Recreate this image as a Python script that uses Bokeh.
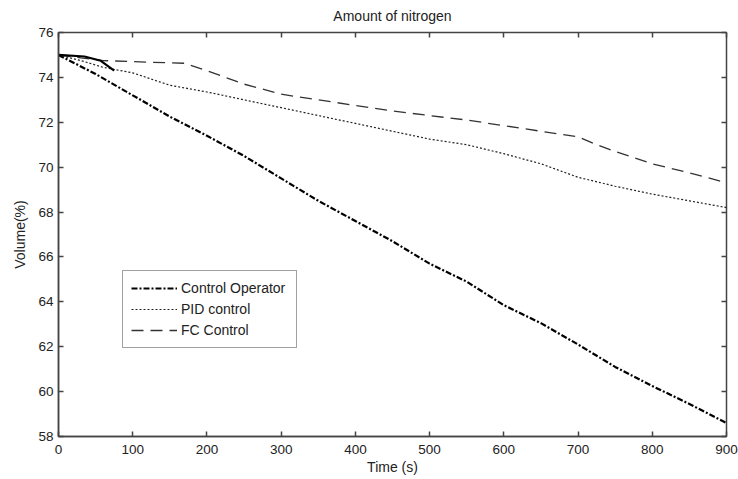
from bokeh.plotting import figure
from bokeh.models import Range1d, LinearAxis, Legend, LegendItem, FixedTicker
from bokeh.embed import file_html
from bokeh.resources import INLINE

# Nitrogen volume (%) over time for three control strategies
t_operator = [0, 50, 100, 150, 200, 250, 300, 350, 400, 450, 500, 550, 600, 650, 700, 750, 800, 850, 900]
v_operator = [75.0, 74.15, 73.2, 72.25, 71.4, 70.5, 69.5, 68.5, 67.6, 66.7, 65.7, 64.9, 63.85, 63.05, 62.1, 61.1, 60.25, 59.45, 58.6]

t_pid = [0, 30, 60, 100, 150, 200, 250, 300, 350, 400, 450, 500, 550, 600, 650, 700, 750, 800, 850, 900]
v_pid = [75.0, 74.75, 74.45, 74.2, 73.65, 73.35, 73.0, 72.65, 72.3, 71.95, 71.6, 71.25, 71.0, 70.6, 70.15, 69.55, 69.15, 68.8, 68.5, 68.2]

t_fc = [0, 30, 60, 100, 170, 200, 250, 300, 350, 400, 450, 500, 550, 600, 650, 700, 725, 750, 800, 850, 900]
v_fc = [75.0, 74.87, 74.75, 74.7, 74.63, 74.3, 73.7, 73.25, 73.0, 72.75, 72.5, 72.3, 72.1, 71.85, 71.6, 71.35, 71.0, 70.7, 70.15, 69.75, 69.3]

# short solid start-up segment
t_start = [0, 35, 57, 75]
v_start = [75.0, 74.93, 74.74, 74.3]

x_ticks = [0, 100, 200, 300, 400, 500, 600, 700, 800, 900]
y_ticks = [58, 60, 62, 64, 66, 68, 70, 72, 74, 76]

FONT = "Liberation Sans"
TXT = "#222222"
AX = "#444444"

p = figure(width=738, height=479, output_backend="svg", toolbar_location=None,
           x_range=Range1d(0, 900), y_range=Range1d(58, 76),
           min_border_left=58, min_border_right=12, min_border_top=31, min_border_bottom=43)

p.title.text = "Amount of nitrogen"
p.title.align = "center"
p.title.vertical_align = "top"
p.title.text_font = FONT
p.title.text_font_size = "14px"
p.title.text_font_style = "normal"
p.title.text_color = TXT
p.title.offset = 0
p.title.standoff = 14

p.xgrid.visible = False
p.ygrid.visible = False
p.outline_line_color = AX
p.outline_line_width = 1.5
p.background_fill_color = "white"
p.border_fill_color = "white"

for ax in (p.xaxis[0], p.yaxis[0]):
    ax.major_tick_in = 5
    ax.major_tick_out = 0
    ax.minor_tick_in = 0
    ax.minor_tick_out = 0
    ax.axis_line_color = AX
    ax.axis_line_width = 1.5
    ax.major_tick_line_color = AX
    ax.major_tick_line_width = 1.5
    ax.major_label_text_font = FONT
    ax.major_label_text_font_size = "13.5px"
    ax.major_label_text_color = TXT
    ax.axis_label_text_font = FONT
    ax.axis_label_text_font_size = "14px"
    ax.axis_label_text_font_style = "normal"
    ax.axis_label_text_color = TXT

p.xaxis.ticker = FixedTicker(ticks=x_ticks)
p.yaxis.ticker = FixedTicker(ticks=y_ticks)
p.xaxis.axis_label = "Time (s)"
p.yaxis.axis_label = "Volume(%)"
p.xaxis.major_label_standoff = 8
p.xaxis.axis_label_standoff = 2
p.yaxis.major_label_standoff = 5
p.yaxis.axis_label_standoff = 7

# mirrored ticks on top and right, without labels
def tick_only_axis(ticks):
    return LinearAxis(ticker=FixedTicker(ticks=ticks),
                      major_label_text_font_size="0px", major_label_text_color=None,
                      major_tick_in=5, major_tick_out=0, minor_tick_in=0, minor_tick_out=0,
                      major_label_standoff=0, axis_line_color=None,
                      major_tick_line_color=AX, major_tick_line_width=1.5)

p.add_layout(tick_only_axis(x_ticks), "above")
p.add_layout(tick_only_axis(y_ticks), "right")

r_op = p.line(t_operator, v_operator, line_color="black", line_width=2.2, line_dash="6 2 2 2")
r_pid = p.line(t_pid, v_pid, line_color="#222222", line_width=1.2, line_dash="2 2")
r_fc = p.line(t_fc, v_fc, line_color="#333333", line_width=1.3, line_dash="12 7")
p.line(t_start, v_start, line_color="black", line_width=2.2)

legend = Legend(items=[LegendItem(label="Control Operator", renderers=[r_op]),
                       LegendItem(label="PID control", renderers=[r_pid]),
                       LegendItem(label="FC Control", renderers=[r_fc])],
                location=(64, 88), orientation="vertical",
                label_text_font=FONT, label_text_font_size="14px", label_text_color=TXT,
                glyph_width=46, glyph_height=18, label_height=18, label_width=107,
                label_standoff=4, spacing=3, padding=8, margin=0,
                border_line_color=AX, border_line_width=1.2,
                background_fill_color="white", background_fill_alpha=1.0)
p.add_layout(legend, "center")

open("out.html", "w").write(file_html(p, INLINE))
